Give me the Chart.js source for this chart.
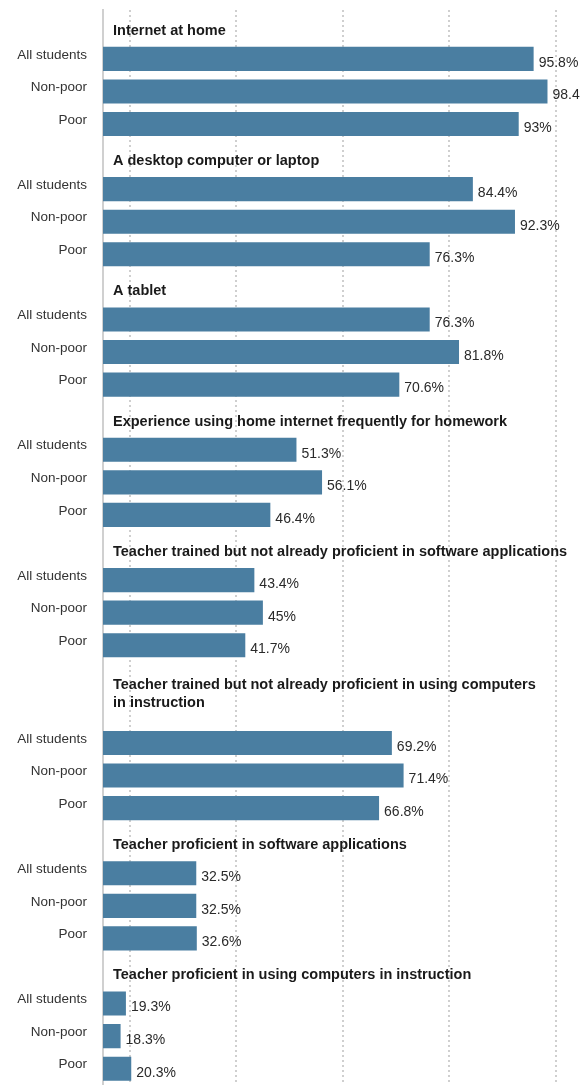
<!DOCTYPE html>
<html>
<head>
<meta charset="utf-8">
<script src="https://cdn.jsdelivr.net/npm/chart.js@4"></script>
<style>
  html, body { margin: 0; padding: 0; background: #fff; overflow: hidden; }
  #wrap { position: relative; width: 580px; height: 1085px; }
</style>
</head>
<body>
<div id="wrap"><canvas id="chart"></canvas></div>
<script>
// group headings (one entry per line)
const groupTitles = [
  ['Internet at home'],
  ['A desktop computer or laptop'],
  ['A tablet'],
  ['Experience using home internet frequently for homework'],
  ['Teacher trained but not already proficient in software applications'],
  ['Teacher trained but not already proficient in using computers', 'in instruction'],
  ['Teacher proficient in software applications'],
  ['Teacher proficient in using computers in instruction'],
];
const rowLabels = ['All students', 'Non-poor', 'Poor'];
const allStudents = [95.8, 84.4, 76.3, 51.3, 43.4, 69.2, 32.5, 19.3];
const nonPoor = [98.4, 92.3, 81.8, 56.1, 45, 71.4, 32.5, 18.3];
const poor = [93, 76.3, 70.6, 46.4, 41.7, 66.8, 32.6, 20.3];
const gridValues = [20, 40, 60, 80, 100];

const BAR = '#4a7ea1';
const FONT = '"Liberation Sans", Arial, sans-serif';

// flatten: heading slot(s) then the three bars for each group
const labels = [];
const values = [];
const titleSlots = [];
groupTitles.forEach((lines, g) => {
  const start = labels.length;
  lines.forEach(() => { labels.push(''); values.push(null); });
  titleSlots.push({ start, end: labels.length - 1, lines });
  [allStudents, nonPoor, poor].forEach((series, r) => {
    labels.push(rowLabels[r]);
    values.push(series[g]);
  });
});

const groupTitlePlugin = {
  id: 'groupTitles',
  afterDatasetsDraw(chart) {
    const { ctx, scales: { y }, chartArea } = chart;
    ctx.save();
    ctx.font = 'bold 14.5px ' + FONT;
    ctx.fillStyle = '#1a1a1a';
    ctx.textAlign = 'left';
    ctx.textBaseline = 'middle';
    titleSlots.forEach(t => {
      const mid = (y.getPixelForValue(t.start) + y.getPixelForValue(t.end)) / 2;
      const n = t.lines.length;
      const base = n === 1 ? mid + 4.5 : mid;
      t.lines.forEach((line, i) => {
        ctx.fillText(line, chartArea.left + 10, base + (i - (n - 1) / 2) * 18);
      });
    });
    ctx.restore();
  }
};

const valueLabelPlugin = {
  id: 'valueLabels',
  afterDatasetsDraw(chart) {
    const { ctx } = chart;
    const meta = chart.getDatasetMeta(0);
    ctx.save();
    ctx.font = '14px ' + FONT;
    ctx.fillStyle = '#2a2a2a';
    ctx.textAlign = 'left';
    ctx.textBaseline = 'middle';
    meta.data.forEach((bar, i) => {
      const v = values[i];
      if (v === null) return;
      ctx.fillText(v + '%', bar.x + 5, bar.y + 4);
    });
    ctx.restore();
  }
};

new Chart(document.getElementById('chart'), {
  type: 'bar',
  data: {
    labels,
    datasets: [{
      data: values,
      backgroundColor: BAR,
      borderWidth: 0,
      barPercentage: 1,
      categoryPercentage: 0.74,
    }],
  },
  options: {
    indexAxis: 'y',
    responsive: true,
    maintainAspectRatio: false,
    animation: false,
    layout: { padding: { top: 10, right: 0, bottom: 0, left: 0 } },
    plugins: {
      legend: { display: false },
      tooltip: { enabled: false },
    },
    scales: {
      x: {
        position: 'top',
        min: 15,
        max: 104.5,
        afterBuildTicks(scale) {
          scale.ticks = gridValues.map(v => ({ value: v }));
        },
        afterFit(scale) {
          scale.height = 0;
          scale.paddingLeft = 0;
          scale.paddingRight = 0;
        },
        ticks: { display: false },
        border: { display: false, dash: [2, 3] },
        grid: {
          color: '#cfcfcf',
          lineWidth: 2,
          drawTicks: false,
        },
      },
      y: {
        afterFit(scale) {
          scale.width = 103;
          scale.paddingTop = 0;
          scale.paddingBottom = 0;
        },
        border: { display: true, color: '#d0d0d0', width: 2 },
        grid: { display: false, drawTicks: false },
        ticks: {
          padding: 16,
          labelOffset: -4,
          color: '#333',
          autoSkip: false,
          font: { family: FONT, size: 13.5 },
        },
      },
    },
  },
  plugins: [groupTitlePlugin, valueLabelPlugin],
});
</script>
</body>
</html>
